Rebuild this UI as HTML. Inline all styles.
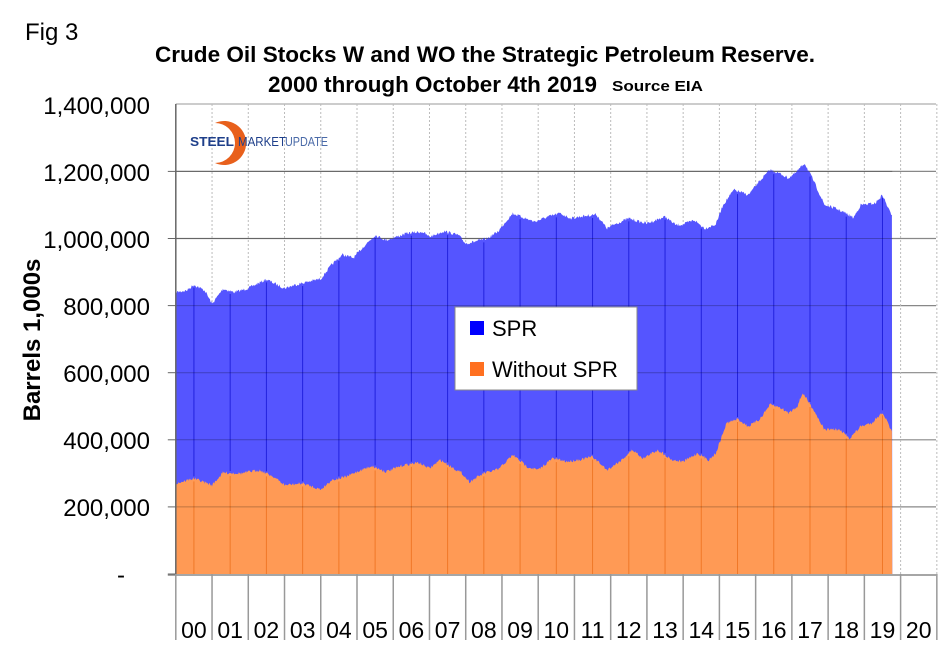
<!DOCTYPE html>
<html><head><meta charset="utf-8"><style>
html,body{margin:0;padding:0;background:#fff;}
svg{display:block;font-family:"Liberation Sans",Arial,sans-serif;}
</style></head><body>
<svg id="s" width="945" height="658" viewBox="0 0 945 658" xmlns="http://www.w3.org/2000/svg">
<rect width="945" height="658" fill="#fff"/>
<text x="25" y="40" font-size="24">Fig 3</text>
<text x="155" y="62" font-size="22" font-weight="bold" textLength="660" lengthAdjust="spacingAndGlyphs">Crude Oil Stocks W and WO the Strategic Petroleum Reserve.</text>
<text x="268" y="92" font-size="22" font-weight="bold" textLength="329" lengthAdjust="spacingAndGlyphs">2000 through October 4th 2019</text>
<text x="612" y="91" font-size="15" font-weight="bold" textLength="91" lengthAdjust="spacingAndGlyphs">Source EIA</text>
<g id="grid"></g>
<g id="areas"></g>
<g id="axes"></g>
<g font-size="24" text-anchor="end">
<text x="150" y="114">1,400,000</text>
<text x="150" y="181">1,200,000</text>
<text x="150" y="248">1,000,000</text>
<text x="150" y="315">800,000</text>
<text x="150" y="382">600,000</text>
<text x="150" y="449">400,000</text>
<text x="150" y="516">200,000</text>
<text x="125" y="583">-</text>
</g>
<text transform="translate(40,340) rotate(-90)" font-size="24" font-weight="bold" text-anchor="middle">Barrels 1,000s</text>
<path d="M215,123 A22,22 0 1 1 215,163 A19,19 0 1 0 215,123Z" fill="#e8601c"/>
<text x="190" y="146" font-size="13" font-weight="bold" fill="#1e3f8a" textLength="44" lengthAdjust="spacingAndGlyphs">STEEL</text>
<text x="238" y="146" font-size="13" fill="#1e3f8a" textLength="48" lengthAdjust="spacingAndGlyphs">MARKET</text>
<text x="285" y="146" font-size="13" fill="#4a6aa8" textLength="43" lengthAdjust="spacingAndGlyphs">UPDATE</text>
<rect x="455" y="307" width="182" height="83" fill="#fff" stroke="#888"/>
<rect x="470" y="321" width="14" height="14" fill="#0000ff"/>
<text x="492" y="336" font-size="22">SPR</text>
<rect x="470" y="362" width="14" height="14" fill="#ff7020"/>
<text x="492" y="377" font-size="22">Without SPR</text>
<g id="xl" font-size="23" text-anchor="middle"></g>
</svg>
<script>
const L=175.8,W=36.24,Y0=574,K=67.1/200;
const X=t=>L+t*W, Y=v=>Y0-v*K;
const blue=[[0,840],[0.3,845],[0.5,862],[0.8,845],[1.0,805],[1.3,850],[1.6,840],[1.8,845],[2.0,852],[2.5,878],[2.8,862],[3.0,852],[3.3,862],[3.6,870],[4.0,880],[4.3,922],[4.6,952],[4.9,942],[5.2,978],[5.5,1010],[5.8,995],[6.0,1002],[6.4,1016],[6.8,1020],[7.0,1005],[7.4,1022],[7.8,1010],[8.0,985],[8.3,992],[8.6,1000],[8.9,1022],[9.1,1050],[9.3,1075],[9.6,1062],[9.9,1050],[10.3,1066],[10.6,1075],[10.9,1060],[11.2,1066],[11.6,1072],[11.9,1030],[12.1,1042],[12.5,1060],[12.8,1050],[13.0,1045],[13.5,1065],[13.8,1040],[14.0,1042],[14.3,1055],[14.6,1030],[14.9,1042],[15.1,1100],[15.4,1145],[15.8,1130],[16.1,1170],[16.4,1205],[16.7,1192],[16.9,1180],[17.1,1195],[17.35,1225],[17.6,1172],[17.9,1100],[18.2,1090],[18.4,1080],[18.7,1062],[18.9,1100],[19.3,1105],[19.5,1130],[19.7,1080],[19.77,1070]];
const org=[[0,270],[0.5,285],[1.0,265],[1.3,302],[1.8,300],[2.3,310],[2.7,290],[3.0,265],[3.5,270],[4.0,252],[4.3,280],[4.7,290],[5.0,305],[5.4,322],[5.8,305],[6.3,325],[6.7,332],[7.0,315],[7.3,340],[7.9,300],[8.1,275],[8.5,300],[8.9,312],[9.3,355],[9.7,320],[10.0,310],[10.4,345],[10.8,335],[11.2,342],[11.5,350],[11.9,310],[12.3,340],[12.6,370],[12.9,345],[13.3,370],[13.7,340],[14.0,335],[14.4,360],[14.7,340],[14.9,360],[15.2,450],[15.5,462],[15.8,440],[16.1,460],[16.4,505],[16.7,495],[16.9,480],[17.15,500],[17.3,540],[17.6,490],[17.9,430],[18.1,432],[18.3,430],[18.6,405],[18.9,440],[19.2,450],[19.5,482],[19.65,450],[19.77,420]];
function interp(d,t){for(let i=1;i<d.length;i++){if(t<=d[i][0]){const a=d[i-1],b=d[i];return a[1]+(b[1]-a[1])*(t-a[0])/(b[0]-a[0]);}}return d[d.length-1][1];}
let seed=7;const rnd=()=>{seed=(seed*16807)%2147483647;return seed/2147483647-0.5;};
function path(d){let p=`M${X(0)},${Y0}`;for(let t=0;t<=19.77;t+=0.02){p+=`L${X(t).toFixed(1)},${(Y(interp(d,t))+rnd()*3).toFixed(1)}`;}p+=`L${X(19.77)},${Y0}Z`;return p;}
const ns="http://www.w3.org/2000/svg";
function el(g,tag,a){const e=document.createElementNS(ns,tag);for(const k in a)e.setAttribute(k,a[k]);document.getElementById(g).appendChild(e);return e;}
for(let i=1;i<=6;i++)el("grid","line",{x1:L,x2:936,y1:Y0-i*67.1,y2:Y0-i*67.1,stroke:"#888","stroke-width":1.2});
el("grid","line",{x1:L,x2:936,y1:104,y2:104,stroke:"#bbb","stroke-width":1.5});
for(let i=1;i<=21;i++)el("grid","line",{x1:X(i),x2:X(i),y1:104,y2:Y0,stroke:"#bbb","stroke-dasharray":"2,2"});
el("areas","path",{d:path(blue),fill:"#5555ff"});
el("areas","path",{d:path(org),fill:"#ff9a55"});
for(let i=0;i<20;i++){const x=X(i+0.5);el("areas","line",{x1:x,x2:x,y1:Y(interp(blue,i+0.5))+3,y2:Y(interp(org,i+0.5))-2,stroke:"#2222dd","stroke-width":1});el("areas","line",{x1:x,x2:x,y1:Y(interp(org,i+0.5))+3,y2:Y0,stroke:"#f07828","stroke-width":1});}
for(let i=1;i<=6;i++)el("areas","line",{x1:L,x2:X(19.77),y1:Y0-i*67.1,y2:Y0-i*67.1,stroke:"#000","stroke-opacity":0.25});
el("axes","line",{x1:L,x2:L,y1:104,y2:Y0,stroke:"#666","stroke-width":1.5});
el("axes","line",{x1:L-8,x2:936,y1:Y0+1,y2:Y0+1,stroke:"#888","stroke-width":1.5});
for(let i=0;i<=6;i++)el("axes","line",{x1:L-8,x2:L,y1:Y0-i*67.1,y2:Y0-i*67.1,stroke:"#666"});
for(let i=0;i<=21;i++)el("axes","line",{x1:X(i),x2:X(i),y1:Y0,y2:640,stroke:"#999","stroke-width":1.5});
for(let i=0;i<21;i++){const t=el("xl","text",{x:X(i+0.5),y:638});t.textContent=String(i).padStart(2,"0");}
</script>
</body></html>
